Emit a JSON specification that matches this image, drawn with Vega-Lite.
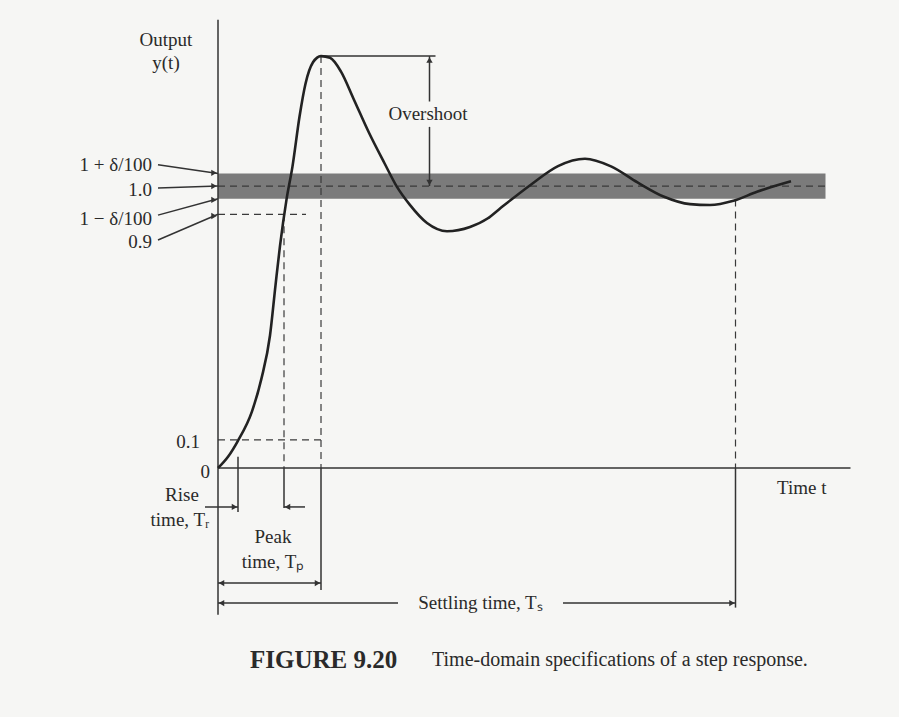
{
  "$schema": "https://vega.github.io/schema/vega-lite/v6.json",
  "width": 899,
  "height": 717,
  "autosize": {"type": "fit", "contains": "padding"},
  "padding": 0,
  "background": "#f6f6f4",
  "config": {"view": {"stroke": null}, "text": {"font": "Liberation Serif", "color": "#2a2a2a"}},
  "datasets": {
    "curve": [
      {"t": 0, "v": 0}, {"t": 0.2, "v": 0.04}, {"t": 0.39, "v": 0.094}, {"t": 0.68, "v": 0.201},
      {"t": 0.87, "v": 0.318}, {"t": 1.04, "v": 0.47}, {"t": 1.15, "v": 0.648}, {"t": 1.24, "v": 0.788},
      {"t": 1.37, "v": 0.952}, {"t": 1.49, "v": 1.07}, {"t": 1.63, "v": 1.246}, {"t": 1.75, "v": 1.363},
      {"t": 1.9, "v": 1.439}, {"t": 2.06, "v": 1.461}, {"t": 2.24, "v": 1.455}, {"t": 2.46, "v": 1.406},
      {"t": 2.71, "v": 1.31}, {"t": 3.02, "v": 1.189}, {"t": 3.33, "v": 1.081}, {"t": 3.58, "v": 0.997},
      {"t": 3.83, "v": 0.935}, {"t": 4.18, "v": 0.869}, {"t": 4.58, "v": 0.84}, {"t": 5.04, "v": 0.855},
      {"t": 5.39, "v": 0.885}, {"t": 5.63, "v": 0.919}, {"t": 6.25, "v": 1.004}, {"t": 6.8, "v": 1.071},
      {"t": 7.34, "v": 1.097}, {"t": 7.86, "v": 1.07}, {"t": 8.39, "v": 1.013}, {"t": 8.91, "v": 0.963},
      {"t": 9.44, "v": 0.936}, {"t": 9.84, "v": 0.933}, {"t": 10.31, "v": 0.948}, {"t": 10.78, "v": 0.98},
      {"t": 11.46, "v": 1.017}
    ],
    "band": [{"t": 0, "t2": 12.15, "v": 0.955, "v2": 1.045}],
    "dashed": [
      {"t": 0, "v": 1.0, "t2": 12.15, "v2": 1.0},
      {"t": 0, "v": 0.9, "t2": 1.76, "v2": 0.9},
      {"t": 0, "v": 0.1, "t2": 2.06, "v2": 0.1},
      {"t": 1.32, "v": 0.9, "t2": 1.32, "v2": 0},
      {"t": 2.06, "v": 1.461, "t2": 2.06, "v2": 0},
      {"t": 10.35, "v": 0.952, "t2": 10.35, "v2": 0}
    ],
    "solid": [
      {"t": 0, "v": -0.52, "t2": 0, "v2": 1.59},
      {"t": 0, "v": 0, "t2": 12.65, "v2": 0},
      {"t": 0.4, "v": 0.04, "t2": 0.4, "v2": -0.156},
      {"t": 1.32, "v": 0, "t2": 1.32, "v2": -0.142},
      {"t": 2.06, "v": 0, "t2": 2.06, "v2": -0.433},
      {"t": 10.35, "v": 0, "t2": 10.35, "v2": -0.495},
      {"t": 2.06, "v": 1.461, "t2": 4.35, "v2": 1.461},
      {"t": 4.23, "v": 1.3, "t2": 4.23, "v2": 1.461},
      {"t": 4.23, "v": 1.0, "t2": 4.23, "v2": 1.21},
      {"t": -0.26, "v": -0.138, "t2": 0.4, "v2": -0.138},
      {"t": 1.74, "v": -0.138, "t2": 1.32, "v2": -0.138},
      {"t": 0, "v": -0.408, "t2": 2.06, "v2": -0.408},
      {"t": 0, "v": -0.479, "t2": 3.6, "v2": -0.479},
      {"t": 6.9, "v": -0.479, "t2": 10.35, "v2": -0.479},
      {"t": -1.2, "v": 1.076, "t2": 0, "v2": 1.045},
      {"t": -1.2, "v": 0.993, "t2": 0, "v2": 1.0},
      {"t": -1.2, "v": 0.897, "t2": 0, "v2": 0.955},
      {"t": -1.2, "v": 0.809, "t2": 0, "v2": 0.9}
    ],
    "arrows": [
      {"t": 4.23, "v": 1.447, "dir": "up"},
      {"t": 4.23, "v": 1.013, "dir": "down"},
      {"t": 0.33, "v": -0.138, "dir": "right"},
      {"t": 1.39, "v": -0.138, "dir": "left"},
      {"t": 0.07, "v": -0.408, "dir": "left"},
      {"t": 1.99, "v": -0.408, "dir": "right"},
      {"t": 0.07, "v": -0.479, "dir": "left"},
      {"t": 10.28, "v": -0.479, "dir": "right"},
      {"t": -0.08, "v": 1.047, "dir": "right"},
      {"t": -0.08, "v": 1.0, "dir": "right"},
      {"t": -0.08, "v": 0.951, "dir": "right"},
      {"t": -0.08, "v": 0.894, "dir": "right"}
    ],
    "labelsRight": [
      {"t": -1.32, "v": 1.074, "label": "1 + δ/100"},
      {"t": -1.32, "v": 0.986, "label": "1.0"},
      {"t": -1.32, "v": 0.883, "label": "1 − δ/100"},
      {"t": -1.32, "v": 0.801, "label": "0.9"},
      {"t": -0.36, "v": 0.092, "label": "0.1"},
      {"t": -0.16, "v": -0.014, "label": "0"}
    ],
    "labelsCenter": [
      {"t": -1.04, "v": 1.518, "label": "Output"},
      {"t": -1.04, "v": 1.436, "label": "y(t)"},
      {"t": 4.2, "v": 1.255, "label": "Overshoot"},
      {"t": -0.72, "v": -0.096, "label": "Rise"},
      {"t": -0.76, "v": -0.184, "label": "time, Tᵣ"},
      {"t": 1.1, "v": -0.245, "label": "Peak"},
      {"t": 1.1, "v": -0.333, "label": "time, Tₚ"},
      {"t": 5.25, "v": -0.479, "label": "Settling time, Tₛ"}
    ],
    "labelsLeft": [
      {"t": 11.18, "v": -0.07, "label": "Time t"}
    ],
    "captionBold": [
      {"t": 0.64, "v": -0.681, "label": "FIGURE 9.20"}
    ],
    "caption": [
      {"t": 4.28, "v": -0.681, "label": "Time-domain specifications of a step response."}
    ]
  },
  "encoding": {
    "x": {"field": "t", "type": "quantitative", "scale": {"domain": [-4.36, 13.62], "nice": false, "zero": false}, "axis": null},
    "y": {"field": "v", "type": "quantitative", "scale": {"domain": [-0.883, 1.66], "nice": false, "zero": false}, "axis": null}
  },
  "layer": [
    {"data": {"name": "band"}, "mark": {"type": "rect", "color": "#7b7b7b"}, "encoding": {"x2": {"field": "t2"}, "y2": {"field": "v2"}}},
    {"data": {"name": "dashed"}, "mark": {"type": "rule", "strokeDash": [7, 5], "strokeWidth": 1.2, "color": "#3a3a3a"}, "encoding": {"x2": {"field": "t2"}, "y2": {"field": "v2"}}},
    {"data": {"name": "solid"}, "mark": {"type": "rule", "strokeWidth": 1.5, "color": "#333333"}, "encoding": {"x2": {"field": "t2"}, "y2": {"field": "v2"}}},
    {"data": {"name": "curve"}, "mark": {"type": "line", "interpolate": "monotone", "strokeWidth": 2.6, "color": "#222222"}, "encoding": {"order": {"field": "t", "type": "quantitative"}}},
    {"data": {"name": "arrows"}, "mark": {"type": "point", "filled": true, "size": 40, "color": "#333333", "opacity": 1},
     "encoding": {"shape": {"field": "dir", "type": "nominal", "scale": {"domain": ["right", "left", "up", "down"], "range": ["triangle-right", "triangle-left", "triangle-up", "triangle-down"]}, "legend": null}}},
    {"data": {"name": "labelsRight"}, "mark": {"type": "text", "align": "right", "baseline": "middle", "fontSize": 19}, "encoding": {"text": {"field": "label"}}},
    {"data": {"name": "labelsCenter"}, "mark": {"type": "text", "align": "center", "baseline": "middle", "fontSize": 19}, "encoding": {"text": {"field": "label"}}},
    {"data": {"name": "labelsLeft"}, "mark": {"type": "text", "align": "left", "baseline": "middle", "fontSize": 19}, "encoding": {"text": {"field": "label"}}},
    {"data": {"name": "captionBold"}, "mark": {"type": "text", "align": "left", "baseline": "middle", "fontSize": 25, "fontWeight": "bold"}, "encoding": {"text": {"field": "label"}}},
    {"data": {"name": "caption"}, "mark": {"type": "text", "align": "left", "baseline": "middle", "fontSize": 20}, "encoding": {"text": {"field": "label"}}}
  ]
}
